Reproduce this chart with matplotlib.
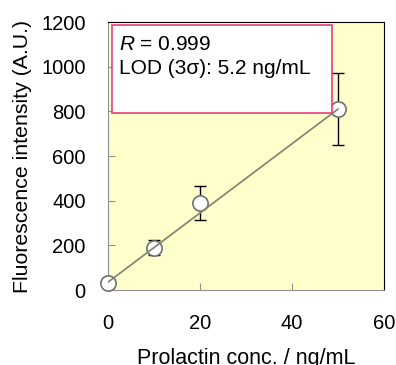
import numpy as np
import matplotlib.pyplot as plt
from matplotlib.patches import Rectangle

plt.rcParams['font.family'] = ['Liberation Sans', 'DejaVu Sans']
plt.rcParams['mathtext.fontset'] = 'custom'
plt.rcParams['mathtext.it'] = 'Liberation Sans:italic'
plt.rcParams['mathtext.rm'] = 'Liberation Sans'

conc = np.array([0, 10, 20, 50])
intensity = np.array([30, 190, 390, 810])
err = np.array([0, 35, 75, 160])
fit_x = np.array([0, 50])
fit_y = np.array([35, 810])
xticks = [0, 20, 40, 60]
yticks = [0, 200, 400, 600, 800, 1000, 1200]

fig = plt.figure(figsize=(3.96, 3.65), dpi=100)
ax = fig.add_axes([108 / 396, 1 - 290 / 365, 276 / 396, 268 / 365])
ax.set_facecolor('#ffffcc')

ax.errorbar(conc, intensity, yerr=err, fmt='none', ecolor='black',
            elinewidth=1, capsize=4, capthick=1, zorder=2)
ax.plot(conc, intensity, 'o', ms=11, mfc='white', mec='#707070', mew=1.2,
        zorder=3, clip_on=False)
ax.plot(fit_x, fit_y, color='#808070', lw=1.2, zorder=4)

box = Rectangle((0.9, 793), 47.8, 394, facecolor='white', edgecolor='#e8407a',
                lw=1.2, zorder=5)
ax.add_patch(box)
ax.text(2.5, 1101, r'$R$ = 0.999', fontsize=15, va='center', zorder=6)
ax.text(2.5, 990, 'LOD (3σ): 5.2 ng/mL', fontsize=15, va='center', zorder=6)

ax.set_xlim(0, 60)
ax.set_ylim(0, 1200)
ax.set_xticks(xticks)
ax.set_yticks(yticks)
ax.tick_params(direction='in', length=5, color='#909090', labelsize=14.5)
ax.tick_params(axis='x', pad=17)
ax.tick_params(axis='y', pad=16)
ax.spines['left'].set_color('#909090')
ax.spines['bottom'].set_color('#909090')
ax.set_xlabel('Prolactin conc. / ng/mL', fontsize=15.5)
ax.xaxis.set_label_coords(0.5, -0.215)
ax.set_ylabel('Fluorescence intensity (A.U.)', fontsize=15.3)
ax.yaxis.set_label_coords(-0.275, 0.5)

fig.savefig('out.png', dpi=100)
